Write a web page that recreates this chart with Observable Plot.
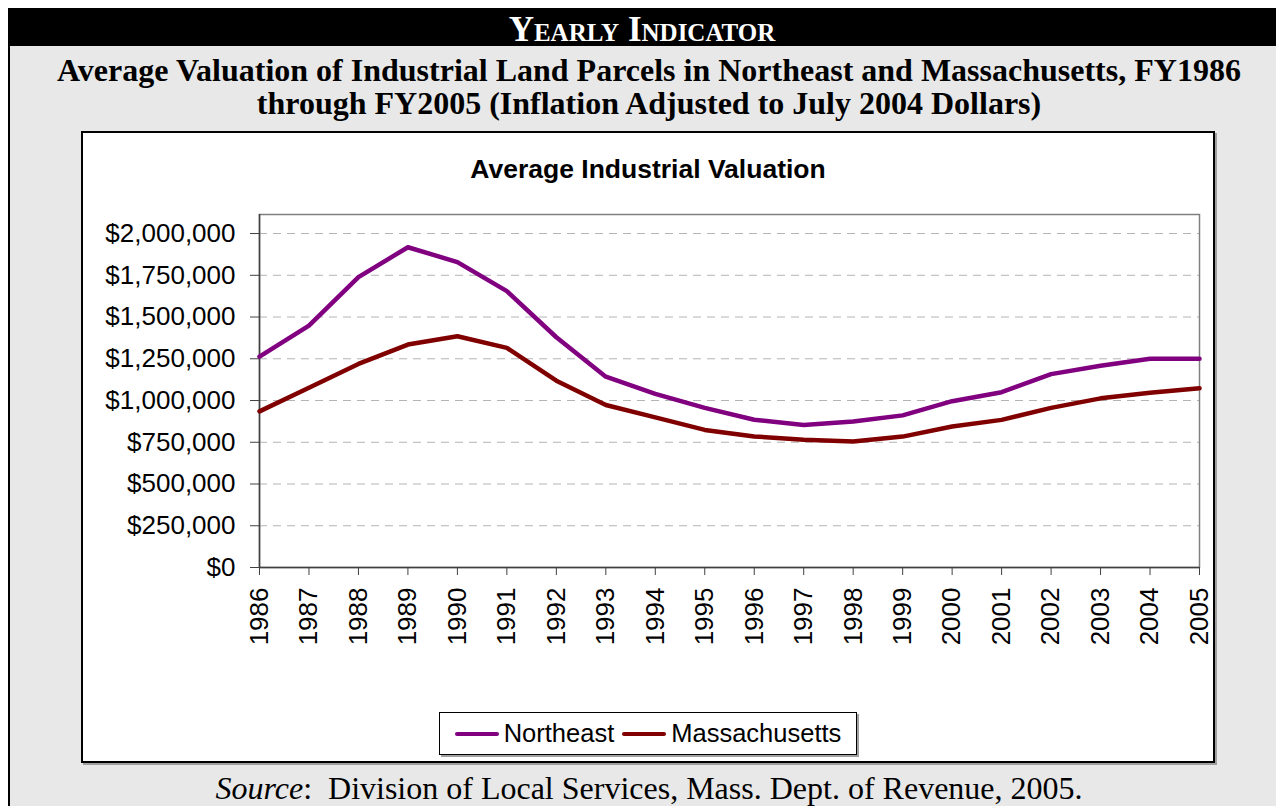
<!DOCTYPE html>
<html>
<head>
<meta charset="utf-8">
<script src="https://cdn.jsdelivr.net/npm/d3@7"></script>
<script src="https://cdn.jsdelivr.net/npm/@observablehq/plot@0.6"></script>
<style>
  html, body { margin: 0; padding: 0; background: #fff; }
  #page { position: relative; width: 1276px; height: 806px; overflow: hidden; }
  .serif { font-family: "Times New Roman", "Liberation Serif", serif; }
  .sans { font-family: Arial, "Liberation Sans", sans-serif; }
  #banner { position: absolute; left: 8px; top: 8px; width: 1268px; height: 38px; background: #000; }
  #bannertext { position: absolute; left: 8px; top: 8px; width: 1268px; color: #fff; font-weight: bold; font-size: 35px; font-variant: small-caps;
            text-align: center; line-height: 44px; z-index: 3; }
  #panel { position: absolute; left: 8px; top: 46px; width: 1268px; height: 760px; background: #e8e8e8; border-left: 2px solid #000; box-sizing: border-box; }
  #title { position: absolute; left: 0; top: 54px; width: 1298px; text-align: center; font-weight: bold; font-size: 32px; line-height: 33px; color: #000; }
  #box { position: absolute; left: 81px; top: 131px; width: 1134px; height: 632px; background: #fff; border: 2px solid #000; box-sizing: border-box; box-shadow: 2px 2px 0 #a0a0a0; }
  #ctitle { position: absolute; left: 81px; top: 154px; width: 1134px; text-align: center; font-weight: bold; font-size: 26.5px; color: #000; }
  #chart { position: absolute; left: 81px; top: 195px; }
  #legend { position: absolute; left: 439px; top: 712px; width: 418px; height: 43px; background: #fff; border: 1.5px solid #000; box-sizing: border-box;
            box-shadow: 2px 2px 0 #a0a0a0; display: flex; align-items: center; justify-content: center; font-size: 25.5px; color: #000; }
  .item { display: flex; align-items: center; margin: 0 4px; }
  .sw { display: inline-block; width: 44px; height: 4px; border-radius: 2px; margin-right: 5px; }
  #source { position: absolute; left: 0; top: 770px; width: 1298px; text-align: center; font-size: 32px; line-height: 36px; color: #000; }
</style>
</head>
<body>
<div id="page">
  <div id="banner"></div>
  <div id="bannertext" class="serif">Yearly Indicator</div>
  <div id="panel"></div>
  <div id="title" class="serif">Average Valuation of Industrial Land Parcels in Northeast and Massachusetts, FY1986<br>through FY2005 (Inflation Adjusted to July 2004 Dollars)</div>
  <div id="box"></div>
  <div id="ctitle" class="sans">Average Industrial Valuation</div>
  <div id="chart"></div>
  <div id="legend" class="sans"></div>
  <div id="source" class="serif"><i>Source</i>:&nbsp; Division of Local Services, Mass. Dept. of Revenue, 2005.</div>
</div>
<script>
const years = [1986, 1987, 1988, 1989, 1990, 1991, 1992, 1993, 1994, 1995, 1996, 1997, 1998, 1999, 2000, 2001, 2002, 2003, 2004, 2005];
const northeast = [1263000, 1449000, 1739000, 1918000, 1829000, 1655000, 1379000, 1143000, 1040000, 956000, 885000, 854000, 874000, 911000, 996000, 1050000, 1158000, 1208000, 1250000, 1250000];
const massachusetts = [935000, 1076000, 1219000, 1335000, 1385000, 1315000, 1119000, 973000, 899000, 824000, 785000, 765000, 754000, 784000, 844000, 884000, 956000, 1013000, 1046000, 1073000];
const seriesNames = ["Northeast", "Massachusetts"];
const seriesColors = ["#800080", "#800000"];
const yTicks = [0, 250000, 500000, 750000, 1000000, 1250000, 1500000, 1750000, 2000000];

const data = [];
years.forEach((yr, i) => {
  data.push({year: yr, value: northeast[i], series: seriesNames[0]});
  data.push({year: yr, value: massachusetts[i], series: seriesNames[1]});
});

const chart = Plot.plot({
  width: 1134,
  height: 475,
  marginLeft: 178,
  marginRight: 16,
  marginTop: 19,
  marginBottom: 103,
  style: {fontFamily: "Arial, 'Liberation Sans', sans-serif", fontSize: "26px", color: "#000", background: "transparent", overflow: "visible"},
  x: {domain: [1986, 2005]},
  y: {domain: [0, 2114000]},
  color: {domain: seriesNames, range: seriesColors},
  marks: [
    Plot.gridY(yTicks.filter(d => d > 0), {stroke: "#b4b4b4", strokeOpacity: 1, strokeDasharray: "8,6"}),
    Plot.frame({stroke: "#808080", strokeWidth: 1.5}),
    Plot.axisY(yTicks, {tickFormat: d3.format("$,"), tickSize: 9, tickPadding: 15, stroke: "#404040", label: null, fontSize: 26}),
    Plot.axisX(years, {tickFormat: d => String(d), tickRotate: -90, tickSize: 8, tickPadding: 12, stroke: "#404040", label: null, fontSize: 26}),
    Plot.ruleX([1986], {stroke: "#404040", strokeWidth: 1.5}),
    Plot.ruleY([0], {stroke: "#404040", strokeWidth: 1.5}),
    Plot.line(data, {x: "year", y: "value", z: "series", stroke: "series", strokeWidth: 4.5, strokeLinejoin: "round"})
  ]
});
document.getElementById("chart").appendChild(chart);

const legend = document.getElementById("legend");
seriesNames.forEach((name, i) => {
  const item = document.createElement("span");
  item.className = "item";
  const sw = document.createElement("span");
  sw.className = "sw";
  sw.style.background = seriesColors[i];
  item.appendChild(sw);
  item.appendChild(document.createTextNode(name));
  legend.appendChild(item);
});
</script>
</body>
</html>
